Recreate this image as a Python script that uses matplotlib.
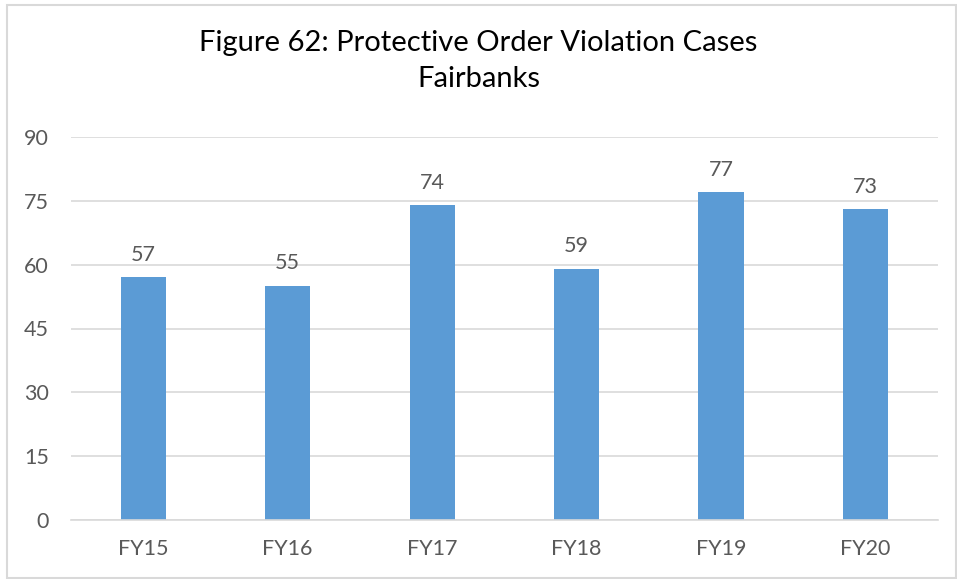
import matplotlib.pyplot as plt
from matplotlib.patches import Rectangle

# dados do gráfico
anos = ['FY15', 'FY16', 'FY17', 'FY18', 'FY19', 'FY20']
casos = [57, 55, 74, 59, 77, 73]
marcas_y = [0, 15, 30, 45, 60, 75, 90]

AZUL = '#5B9BD5'
CINZA = '#595959'

plt.rcParams['font.family'] = ['Lato', 'DejaVu Sans']

fig = plt.figure(figsize=(9.57, 5.79), dpi=100)
ax = fig.add_axes([71 / 957, 1 - 520 / 579, (937.7 - 71) / 957, (520 - 137) / 579])

x = list(range(len(anos)))
barras = ax.bar(x, casos, width=0.312, color=AZUL, zorder=2)

# rótulos com os valores
for xi, v in zip(x, casos):
    ax.annotate(str(v), (xi, v), xytext=(0, 9), textcoords='offset points',
                ha='center', va='bottom', fontsize=15.5, color=CINZA)

ax.set_xlim(-0.5, len(anos) - 0.5)
ax.set_ylim(0, 90)
ax.set_yticks(marcas_y)
ax.set_xticks(x)
ax.set_xticklabels(anos)
ax.tick_params(axis='both', length=0, labelsize=15.5, labelcolor=CINZA)
ax.tick_params(axis='y', pad=16)
ax.tick_params(axis='x', pad=14)
ax.grid(axis='y', color='#D9D9D9', linewidth=1.2, zorder=0)
for s in ['top', 'right', 'left']:
    ax.spines[s].set_visible(False)
ax.spines['bottom'].set_color('#D9D9D9')
ax.spines['bottom'].set_linewidth(1.2)

fig.text(0.5, 1 - 61 / 579, 'Figure 62: Protective Order Violation Cases\nFairbanks',
         ha='center', va='center', fontsize=21, color='black', linespacing=1.45)

# moldura do gráfico
fig.patches.append(Rectangle((7 / 957, 1 / 579), 1 - 8 / 957, 1 - 6 / 579,
                             transform=fig.transFigure, fill=False,
                             edgecolor='#D9D9D9', linewidth=1.5))

fig.savefig('out.png', dpi=100)
